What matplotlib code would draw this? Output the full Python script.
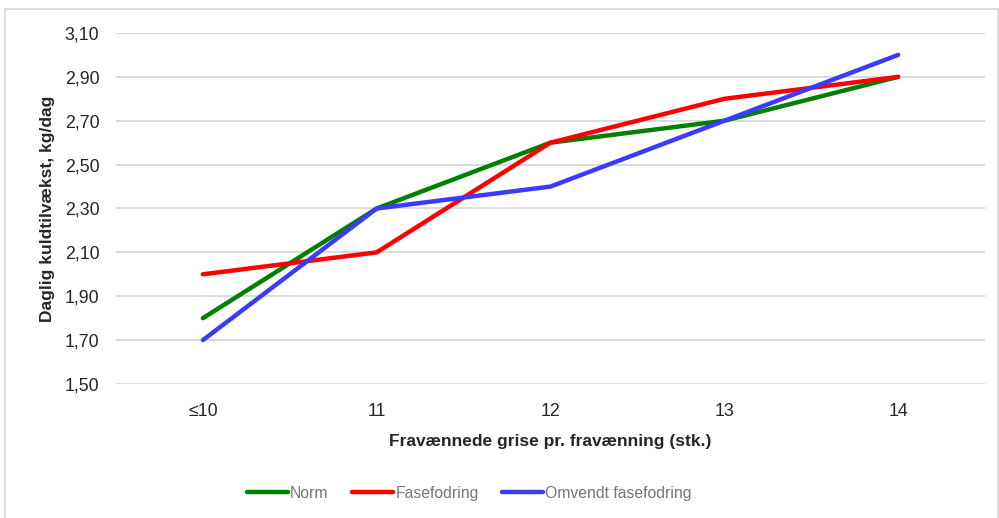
import matplotlib.pyplot as plt
from matplotlib.patches import Rectangle

plt.rcParams["font.family"] = ["Liberation Sans", "DejaVu Sans"]

categories = ["≤10", "11", "12", "13", "14"]
norm = [1.80, 2.30, 2.60, 2.70, 2.90]
fasefodring = [2.00, 2.10, 2.60, 2.80, 2.90]
omvendt = [1.70, 2.30, 2.40, 2.70, 3.00]
y_ticks = [1.50, 1.70, 1.90, 2.10, 2.30, 2.50, 2.70, 2.90, 3.10]

series = [
    ("Norm", norm, "#008000"),
    ("Fasefodring", fasefodring, "#ff0000"),
    ("Omvendt fasefodring", omvendt, "#3b3bff"),
]

fig = plt.figure(figsize=(9.99, 5.18), dpi=100)
ax = fig.add_axes([0.1161, 0.2587, 0.8699, 0.6776])

x = range(len(categories))
for name, values, color in series:
    ax.plot(x, values, color=color, lw=3.2, label=name, solid_capstyle="round")

ax.set_xlim(-0.5, len(categories) - 0.5)
ax.set_ylim(1.5, 3.1)
ax.set_yticks(y_ticks)
ax.set_yticklabels([f"{v:.2f}".replace(".", ",") for v in y_ticks])
ax.set_xticks(list(x))
ax.set_xticklabels(categories)
ax.tick_params(axis="both", length=0, labelsize=12.8, colors="#262626")
ax.tick_params(axis="y", pad=12)
ax.tick_params(axis="x", pad=14)
ax.grid(axis="y", color="#d9d9d9", lw=1.3)
ax.set_axisbelow(True)
for spine in ax.spines.values():
    spine.set_visible(False)

ax.set_xlabel("Fravænnede grise pr. fravænning (stk.)", fontsize=12.5,
              fontweight="bold", color="#262626", labelpad=10)
ax.set_ylabel("Daglig kuldtilvækst, kg/dag", fontsize=12.5,
              fontweight="bold", color="#262626", labelpad=7)

leg = fig.legend(loc="center", bbox_to_anchor=(0.47, 0.048), ncol=3,
                 frameon=False, fontsize=11.3, handlelength=2.6,
                 handletextpad=0.15, columnspacing=1.5)
for text in leg.get_texts():
    text.set_color("#767676")

# light frame round the whole chart
fig.patches.append(Rectangle((0.005, -0.01), 0.994, 0.993, transform=fig.transFigure,
                             fill=False, edgecolor="#d9d9d9", lw=1.3))

fig.savefig("out.png", dpi=100)
